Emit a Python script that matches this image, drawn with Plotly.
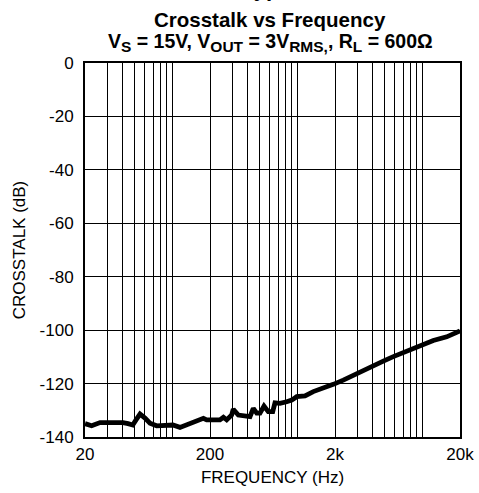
import plotly.graph_objects as go

# Crosstalk measurement (frequency in Hz, crosstalk in dB)
freq_hz = [20, 22.6, 26.4, 31.7, 36, 40.3, 44.2, 48.2, 51.2, 55.1, 60.4, 66.2, 74.9,
           82, 90.1, 101, 115, 138, 166, 177, 188, 215, 240, 256, 272, 298, 307,
           337, 393, 418, 444, 473, 502, 541, 585, 635, 662, 726, 822, 901, 988,
           1151, 1341, 1612, 1938, 2330, 2802, 3368, 4050, 4868, 5854, 7038,
           8462, 10172, 12230, 15658, 20000]
crosstalk_db = [-135.0, -135.8, -134.6, -134.5, -134.8, -134.6, -135.0, -135.5, -133.6,
                -131.4, -132.9, -134.8, -135.8, -135.6, -135.8, -135.5, -136.4, -135.1,
                -133.6, -133.0, -133.6, -133.8, -133.6, -132.6, -133.6, -131.8, -129.6,
                -131.8, -132.4, -132.4, -129.3, -131.1, -131.1, -128.4, -130.5, -130.5,
                -127.2, -127.4, -126.8, -126.2, -124.9, -124.6, -123.0, -121.8, -120.3,
                -118.7, -116.8, -115.2, -113.4, -111.6, -109.9, -108.4, -106.8, -105.6,
                -103.9, -102.5, -100.3]

# Grid positions on the log axis and the labelled decades
grid_freqs = [20, 30, 40, 50, 60, 70, 80, 90, 100,
              200, 300, 400, 500, 600, 700, 800, 900, 1000,
              2000, 3000, 4000, 5000, 6000, 7000, 8000, 9000, 10000, 20000]
labelled = {20: "20", 200: "200", 2000: "2k", 20000: "20k"}
x_ticktext = [labelled.get(f, "") for f in grid_freqs]
y_ticks = [0, -20, -40, -60, -80, -100, -120, -140]
y_ticktext = ["0", "-20", "-40", "-60", "-80", "-100", "-120", "-140"]

FONT = "Liberation Sans, Arial, Helvetica, sans-serif"

fig = go.Figure()
fig.add_trace(go.Scatter(
    x=freq_hz, y=crosstalk_db, mode="lines",
    line=dict(color="black", width=4.8),
    hoverinfo="skip", showlegend=False,
))

fig.update_layout(
    width=479, height=493,
    margin=dict(l=85, r=19, t=63, b=56),
    paper_bgcolor="white", plot_bgcolor="white",
    font=dict(family=FONT, size=17, color="black"),
    xaxis=dict(
        type="log", range=[1.30103, 4.30103], automargin=False,
        tickmode="array", tickvals=grid_freqs, ticktext=x_ticktext,
        showgrid=True, gridcolor="black", gridwidth=1,
        showline=True, linecolor="black", linewidth=2, mirror=True,
        ticks="", zeroline=False, ticklabelstandoff=1,
        title=dict(text="FREQUENCY (Hz)", font=dict(size=17), standoff=8),
    ),
    yaxis=dict(
        range=[-140, 0], automargin=False,
        tickmode="array", tickvals=y_ticks, ticktext=y_ticktext,
        showgrid=True, gridcolor="black", gridwidth=1,
        showline=True, linecolor="black", linewidth=2, mirror=True,
        ticks="", zeroline=False, ticklabelstandoff=6,
        title=dict(text="CROSSTALK (dB)", font=dict(size=17), standoff=10),
    ),
)


def sub(txt):
    return f"<sub><span style='font-size:15.5px'>{txt}</span></sub>"


# Page heading (runs past the top edge) and the two-line chart title
fig.add_annotation(
    text="<b>Typical Performance Characteristics</b>",
    xref="paper", yref="paper", x=(240 - 85) / 375, y=1 + (63 - 3) / 374,
    xanchor="left", yanchor="bottom", showarrow=False,
    font=dict(size=22, family=FONT, color="black"),
)
fig.add_annotation(
    text="<b>Crosstalk vs Frequency</b>",
    xref="paper", yref="paper", x=(270 - 85) / 375, y=1 + (63 - 20) / 374,
    xanchor="center", yanchor="middle", showarrow=False,
    font=dict(size=20.5, family=FONT, color="black"),
)
fig.add_annotation(
    text=f"<b>V{sub('S')} = 15V, V{sub('OUT')} = 3V{sub('RMS,')}, R{sub('L')} = 600Ω</b>",
    xref="paper", yref="paper", x=(270 - 85) / 375, y=1 + (63 - 42) / 374,
    xanchor="center", yanchor="middle", showarrow=False,
    font=dict(size=19.5, family=FONT, color="black"),
)

fig.write_html("out.html")
